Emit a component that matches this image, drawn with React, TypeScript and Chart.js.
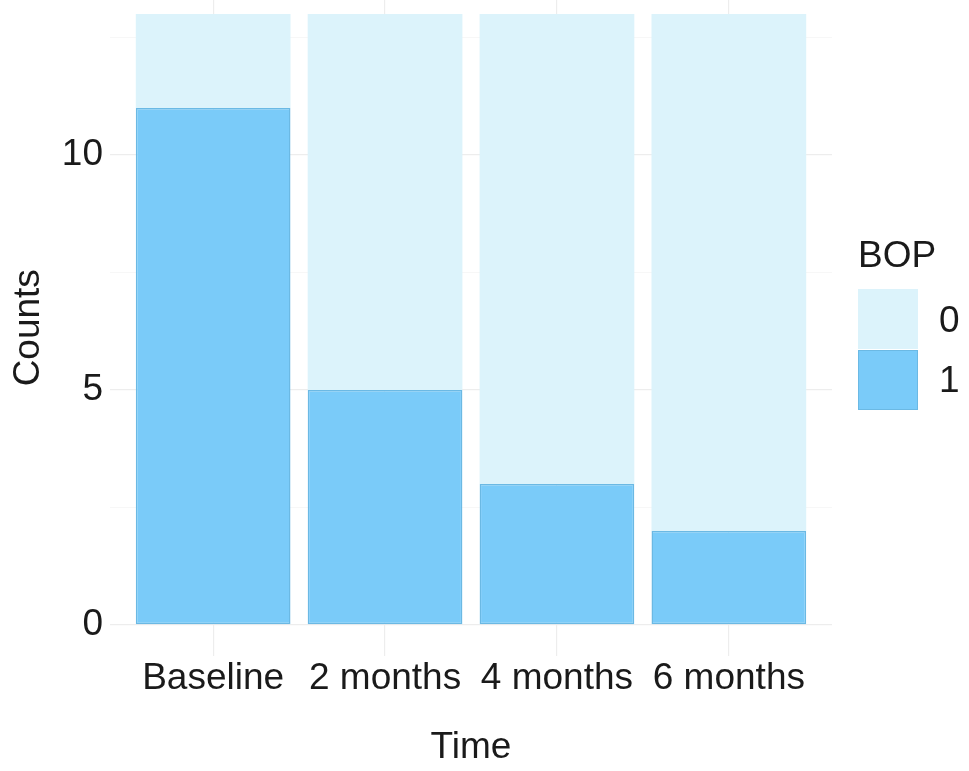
import React, { useEffect, useRef } from 'react';
import { Chart, registerables } from 'chart.js';

Chart.register(...registerables);

const categories = ['Baseline', '2 months', '4 months', '6 months'];
const bop1Counts = [11, 5, 3, 2];
const bop0Counts = [2, 8, 10, 11];
const yMajorTicks = [0, 5, 10];
const yMinorTicks = [2.5, 7.5, 12.5];
const legendTitle = 'BOP';
const legendLabels = ['0', '1'];

const LIGHT = '#DCF3FB';
const DARK = '#7ACBF9';
const DARK_BORDER = '#6BB9E4';
const TEXT = '#1a1a1a';
const FONT = '"Liberation Sans", Arial, Helvetica, sans-serif';
const FS = 37;

export default function App() {
  const ref = useRef<HTMLCanvasElement>(null);

  useEffect(() => {
    const chart = new Chart(ref.current as HTMLCanvasElement, {
      type: 'bar',
      data: {
        datasets: [
          {
            label: '1',
            data: bop1Counts.map((v, i) => ({ x: i, y: v })),
            backgroundColor: DARK,
            borderColor: DARK_BORDER,
            borderWidth: 1.5,
            borderSkipped: false,
            barPercentage: 0.9,
            categoryPercentage: 1,
          },
          {
            label: '0',
            data: bop0Counts.map((v, i) => ({ x: i, y: v })),
            backgroundColor: LIGHT,
            borderColor: LIGHT,
            borderWidth: 0,
            borderSkipped: false,
            barPercentage: 0.9,
            categoryPercentage: 1,
          },
        ],
      } as any,
      options: {
        animation: false,
        responsive: false,
        maintainAspectRatio: false,
        layout: { padding: { left: 0, right: 137, top: 0, bottom: 0 } },
        plugins: { legend: { display: false }, tooltip: { enabled: false } },
        scales: {
          x: {
            type: 'linear',
            min: -0.6,
            max: 3.6,
            offset: false,
            stacked: true,
            afterBuildTicks: (s: any) => {
              s.ticks = categories.map((_, i) => ({ value: i }));
            },
            afterFit: (s: any) => {
              s.height = 115.5;
              s.paddingLeft = 0;
              s.paddingRight = 0;
            },
            ticks: {
              callback: (v: any) => categories[v as number] ?? '',
              font: { size: FS, family: FONT },
              color: TEXT,
              padding: 1,
              maxRotation: 0,
              autoSkip: false,
            },
            grid: { color: '#EDEDED', lineWidth: 1.2, drawTicks: false, offset: false },
            border: { display: false },
            title: {
              display: true,
              text: 'Time',
              font: { size: FS, family: FONT },
              color: TEXT,
              padding: { top: 0, bottom: 1 },
            },
          },
          y: {
            type: 'linear',
            min: -0.65,
            max: 13.3,
            stacked: true,
            afterBuildTicks: (s: any) => {
              s.ticks = [...yMajorTicks, ...yMinorTicks]
                .sort((a, b) => a - b)
                .map((v) => ({ value: v }));
            },
            afterFit: (s: any) => {
              s.width = 110;
              s.paddingTop = 0;
              s.paddingBottom = 0;
            },
            ticks: {
              callback: (v: any) => (yMajorTicks.includes(v as number) ? String(v) : ''),
              font: { size: FS, family: FONT },
              color: TEXT,
              padding: 7,
            },
            grid: {
              color: (ctx: any) => (yMajorTicks.includes(ctx.tick?.value) ? '#EDEDED' : '#F5F5F5'),
              lineWidth: (ctx: any) => (yMajorTicks.includes(ctx.tick?.value) ? 1.2 : 0.8),
              drawTicks: false,
            },
            border: { display: false },
            title: {
              display: true,
              text: 'Counts',
              font: { size: FS, family: FONT },
              color: TEXT,
              padding: { top: 7, bottom: 0 },
            },
          },
        },
      } as any,
    });
    return () => chart.destroy();
  }, []);

  const textStyle: React.CSSProperties = {
    position: 'absolute',
    fontFamily: FONT,
    fontSize: FS,
    lineHeight: `${FS}px`,
    color: TEXT,
    whiteSpace: 'nowrap',
  };

  return (
    <div style={{ position: 'absolute', left: 0, top: 0, width: 969, height: 771, background: '#fff' }}>
      <canvas ref={ref} width={969} height={771} style={{ display: 'block', width: 969, height: 771 }} />
      <div style={{ ...textStyle, left: 858, top: 236 }}>{legendTitle}</div>
      <div style={{ position: 'absolute', left: 858, top: 289, width: 60, height: 60, background: LIGHT }} />
      <div
        style={{
          position: 'absolute',
          left: 858,
          top: 350,
          width: 60,
          height: 60,
          background: DARK,
          boxSizing: 'border-box',
          border: `1.5px solid ${DARK_BORDER}`,
        }}
      />
      <div style={{ ...textStyle, left: 939, top: 301 }}>{legendLabels[0]}</div>
      <div style={{ ...textStyle, left: 939, top: 361 }}>{legendLabels[1]}</div>
    </div>
  );
}
